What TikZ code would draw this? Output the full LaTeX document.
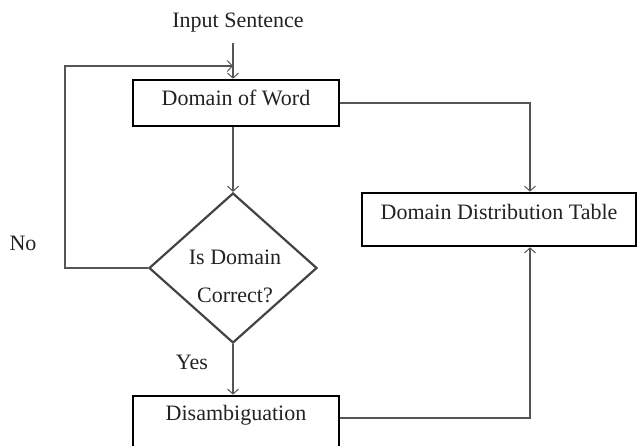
\documentclass[tikz,border=0pt]{standalone}
\usepackage{fontspec}
\setmainfont{Liberation Serif}
\usetikzlibrary{calc}
\usetikzlibrary{arrows.meta}
\usetikzlibrary{shapes.geometric}

\definecolor{linegray}{HTML}{555555}
\definecolor{inkgray}{HTML}{222222}

\tikzset{
  procbox/.style={draw=black, line width=2.6pt, rectangle, inner sep=0pt,
    minimum width=206pt, text=inkgray, text height=15pt, text depth=10pt},
  decision/.style={draw=inkgray!85, line width=2.2pt, diamond, inner sep=0pt,
    minimum width=168pt, minimum height=150pt},
  flow/.style={draw=linegray, line width=1.2pt,
    -{Straight Barb[length=5pt,width=11pt,line width=1pt]}},
  plain/.style={draw=linegray, line width=1.2pt},
  lbl/.style={text=inkgray}
}

\begin{document}
\begin{tikzpicture}[x=1pt,y=-1pt,font=\fontsize{22}{26}\selectfont]
\useasboundingbox (0,0) rectangle (638,446);

% boxes
\node[lbl] (input) at (238,23) {Input Sentence};
\node[procbox, minimum height=46pt] (dow) at (236,103) {Domain of Word};
\node[decision] (chk) at (233,268) {};
\node[lbl, align=center, font=\fontsize{22}{38}\selectfont] (chktxt) at (235,276) {Is Domain\\Correct?};
\node[procbox, minimum height=56pt, text height=12pt, text depth=19pt] (dis) at (236,424) {Disambiguation};
\node[procbox, minimum width=274pt, minimum height=53pt, text height=12pt, text depth=12pt] (ddt) at (499,219.5) {Domain Distribution Table};

% labels
\node[lbl] (no) at (23,243) {No};
\node[lbl] (yes) at (192,362) {Yes};

% connectors
\coordinate (start) at (233,43);
\coordinate (back) at (65,66);
\draw[flow] (start) -- (start |- dow.north);
\draw[flow] (dow.south -| chk.north) -- (chk.north);
\draw[flow] (chk.west) -| (back) -- (back -| chk.north);
\draw[flow] (chk.south) -- (chk.south |- dis.north);
\draw[flow] (dow.east) -| ([xshift=31pt]ddt.north);
\draw[flow] ([yshift=6pt]dis.east) -| ([xshift=31pt]ddt.south);
\end{tikzpicture}
\end{document}
